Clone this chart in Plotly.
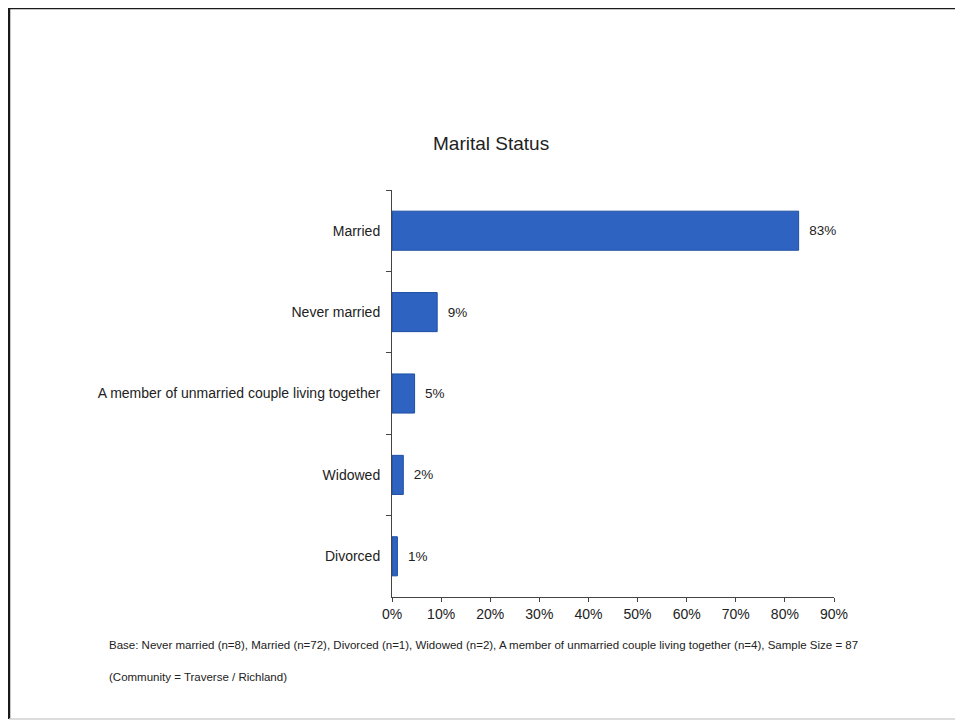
import plotly.graph_objects as go

categories = ["Married", "Never married", "A member of unmarried couple living together", "Widowed", "Divorced"]
values = [82.8, 9.2, 4.6, 2.3, 1.1]
x_ticks = [0, 10, 20, 30, 40, 50, 60, 70, 80, 90]
x_tick_labels = [f"{t}%" for t in x_ticks]
labels = ["\u00a0\u00a0" + f"{round(v)}%" for v in values]

# page offset of 8px (body margin) compensated
OFF = 8
W, H = 963 - OFF, 723 - OFF
L, R, T, B = 392 - OFF, 129, 190 - OFF, 126
pw, ph = W - L - R, H - T - B

def px_x(x):
    return (x - OFF - L) / pw

def px_y(y):
    return (H - B - (y - OFF)) / ph

def line(x0, y0, x1, y1, color, width):
    return dict(type="line", xref="paper", yref="paper",
                x0=px_x(x0), x1=px_x(x1), y0=px_y(y0), y1=px_y(y1),
                line=dict(color=color, width=width), layer="below")

fig = go.Figure(go.Bar(
    y=categories, x=values, orientation="h",
    marker=dict(color="#2F63C1", line=dict(color="#1E4FA3", width=1)),
    width=0.48,
    text=labels, textposition="outside", cliponaxis=False,
    textfont=dict(family="Liberation Sans, Arial", size=13.5, color="#222"),
))

fig.update_layout(
    width=W, height=H,
    margin=dict(l=L, r=R, t=T, b=B),
    paper_bgcolor="white", plot_bgcolor="white",
    showlegend=False,
    font=dict(family="Liberation Sans, Arial", size=14, color="#222"),
    xaxis=dict(range=[0, 90], tickvals=x_ticks, ticktext=x_tick_labels,
               showgrid=False, zeroline=False, showline=True, linecolor="#444", linewidth=1,
               ticks="outside", ticklen=4, tickcolor="#444", fixedrange=True,
               tickfont=dict(size=14)),
    yaxis=dict(autorange="reversed", showgrid=False, zeroline=False, showline=True,
               linecolor="#444", linewidth=1, ticks="outside", ticklen=5, tickcolor="#444",
               tickson="boundaries", fixedrange=True, ticklabelstandoff=8,
               tickfont=dict(size=14)),
    shapes=[
        line(8, 8, 990, 8, "#1a1a1a", 2.5),
        line(9, 7, 9, 719, "#1a1a1a", 2.5),
        line(9, 719, 990, 719, "#d0d0d0", 1.5),
    ],
    annotations=[
        dict(text="Marital Status", xref="paper", yref="paper", x=px_x(491), y=px_y(143),
             showarrow=False, font=dict(size=19, color="#222"), xanchor="center", yanchor="middle"),
        dict(text="Base: Never married (n=8), Married (n=72), Divorced (n=1), Widowed (n=2), A member of unmarried couple living together (n=4), Sample Size = 87",
             xref="paper", yref="paper", x=px_x(107), y=px_y(645), showarrow=False,
             font=dict(size=11.5, color="#222"), xanchor="left", yanchor="middle"),
        dict(text="(Community = Traverse / Richland)",
             xref="paper", yref="paper", x=px_x(107), y=px_y(677), showarrow=False,
             font=dict(size=11.5, color="#222"), xanchor="left", yanchor="middle"),
    ],
)

fig.write_html("out.html")
